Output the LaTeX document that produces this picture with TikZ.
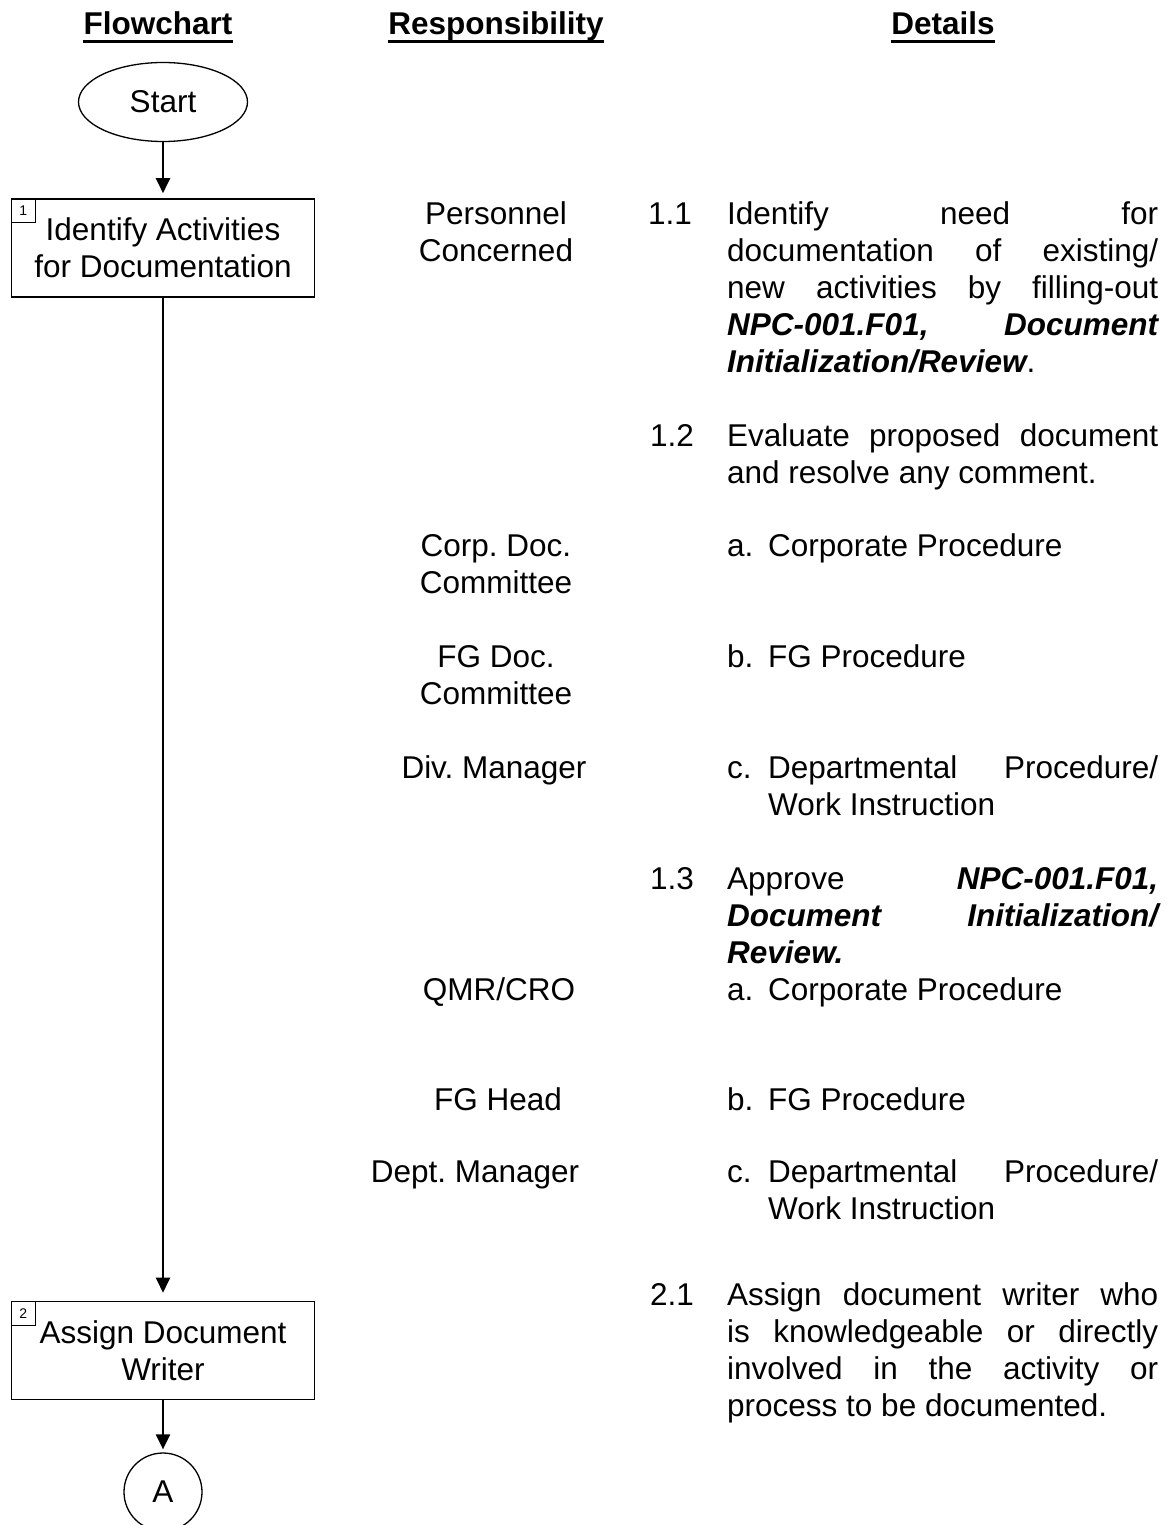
\documentclass[tikz,border=0pt]{standalone}
\usepackage{fontspec}
\setmainfont{Liberation Sans}
\usetikzlibrary{arrows.meta,shapes.geometric}
\frenchspacing
\newcommand\bodysize{\fontsize{31.5pt}{37pt}\selectfont}
\newcommand\formref[1]{{\bfseries\itshape #1}}
\tikzset{
  flowbox/.style={draw,line width=1.6pt,minimum width=303pt,minimum height=98pt,inner sep=0pt,align=center},
  numbox/.style={draw,line width=1pt,minimum size=24pt,inner sep=0pt,anchor=north west,font=\fontsize{14pt}{16pt}\selectfont},
  flowarrow/.style={line width=2.2pt,-{Triangle[length=15pt,width=14pt]}},
  colhead/.style={anchor=base,inner sep=0pt,font=\bodysize\bfseries},
  resp/.style={anchor=base,inner sep=0pt,align=center},
  stepno/.style={anchor=base west,inner sep=0pt},
  detail/.style={anchor=base west,inner sep=0pt,text width=431pt,align=justify},
  subdetail/.style={anchor=base west,inner sep=0pt,text width=390pt,align=justify}
}

\begin{document}
\begin{tikzpicture}[x=1pt,y=-1pt,font=\bodysize]
  \useasboundingbox (0,0) rectangle (1170,1525);
  \node[colhead] (hflow) at (158,35) {Flowchart};
  \node[colhead] (hresp) at (496,35) {Responsibility};
  \node[colhead] (hdet) at (943,35) {Details};
  \foreach \h in {hflow,hresp,hdet}
    \draw[line width=3pt] ([yshift=-6.5pt]\h.base west) -- ([yshift=-6.5pt]\h.base east);

  \node[ellipse,draw,line width=1.3pt,minimum width=169pt,minimum height=79pt,inner sep=0pt] (start) at (163,102) {Start};
  \node[flowbox] (act1) at (163,248) {Identify Activities\\for Documentation};
  \node[numbox] (n1) at (act1.north west) {1};
  \node[flowbox] (act2) at (163,1350.5) {Assign Document\\Writer};
  \node[numbox] (n2) at (act2.north west) {2};
  \node[circle,draw,line width=1.3pt,minimum size=78pt,inner sep=0pt] (conA) at (163,1492) {A};
  \draw[flowarrow,shorten >=5pt] (start) -- (act1);
  \draw[flowarrow,shorten >=8pt] (act1) -- (act2);
  \draw[flowarrow,shorten >=3pt] (act2) -- (conA);

  \node[resp] (r11) at (496,261) {Personnel\\Concerned};
  \node[resp] (r12a) at (496,593) {Corp. Doc.\\Committee};
  \node[resp] (r12b) at (496,704) {FG Doc.\\Committee};
  \node[resp] (r12c) at (494,778) {Div. Manager};
  \node[resp] (r13a) at (499,1000) {QMR/CRO};
  \node[resp] (r13b) at (498,1110) {FG Head};
  \node[resp] (r13c) at (475,1182) {Dept. Manager};

  \node[stepno] (s11) at (648,224) {1.1};
  \node[detail] (d11) at (727,224) {Identify need for\linebreak documentation of existing/\linebreak new activities by filling-out\linebreak \formref{NPC-001.F01, Document}\linebreak \formref{Initialization/Review}.};
  \node[stepno] (s12) at (650,446) {1.2};
  \node[detail] (d12) at (727,446) {Evaluate proposed document\linebreak and resolve any comment.};
  \node[stepno] (s12a) at (727,556) {a.};
  \node[subdetail] (d12a) at (768,556) {Corporate Procedure};
  \node[stepno] (s12b) at (727,667) {b.};
  \node[subdetail] (d12b) at (768,667) {FG Procedure};
  \node[stepno] (s12c) at (727,778) {c.};
  \node[subdetail] (d12c) at (768,778) {Departmental Procedure/\linebreak Work Instruction};
  \node[stepno] (s13) at (650,889) {1.3};
  \node[detail] (d13) at (727,889) {Approve \formref{NPC-001.F01,}\linebreak \formref{Document Initialization/}\linebreak \formref{Review.}};
  \node[stepno] (s13a) at (727,1000) {a.};
  \node[subdetail] (d13a) at (768,1000) {Corporate Procedure};
  \node[stepno] (s13b) at (727,1110) {b.};
  \node[subdetail] (d13b) at (768,1110) {FG Procedure};
  \node[stepno] (s13c) at (727,1182) {c.};
  \node[subdetail] (d13c) at (768,1182) {Departmental Procedure/\linebreak Work Instruction};
  \node[stepno] (s21) at (650,1305) {2.1};
  \node[detail] (d21) at (727,1305) {Assign document writer who\linebreak is knowledgeable or directly\linebreak involved in the activity or\linebreak process to be documented.};
\end{tikzpicture}
\end{document}
